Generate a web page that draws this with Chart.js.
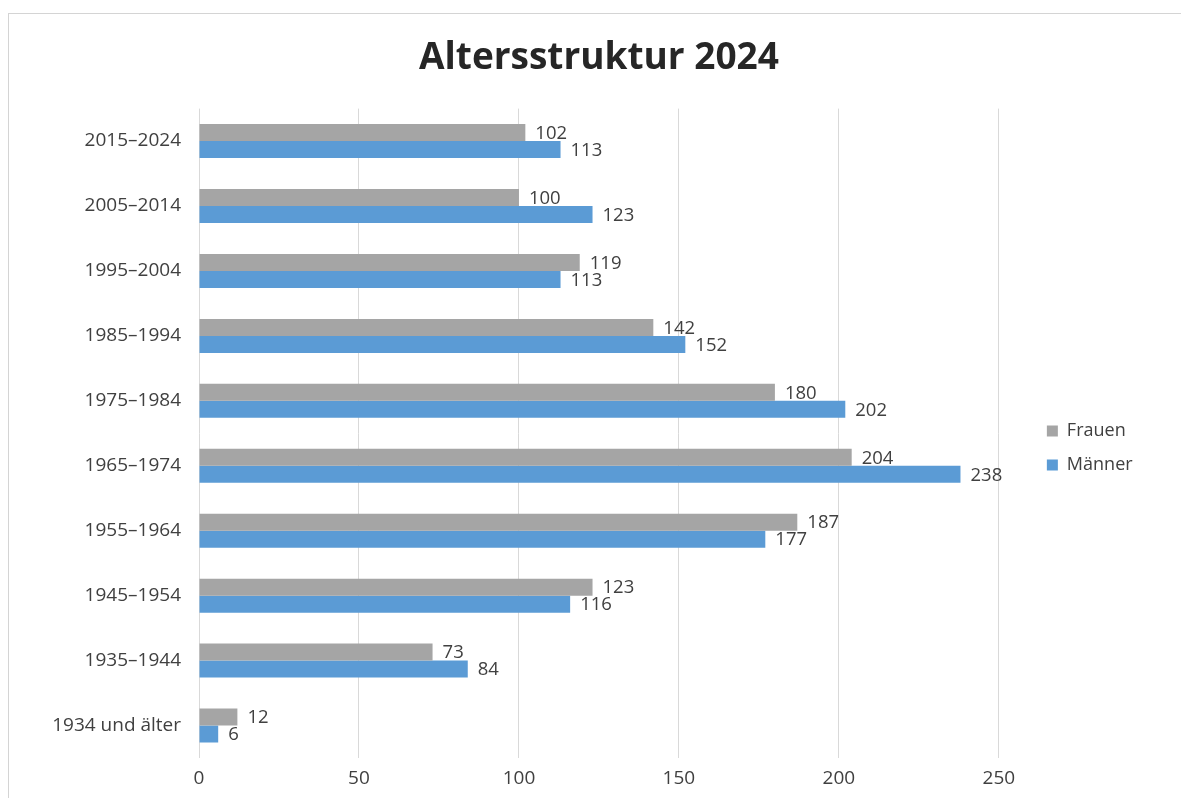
<!DOCTYPE html>
<html>
<head>
<meta charset="utf-8">
<script src="https://cdn.jsdelivr.net/npm/chart.js@4"></script>
<style>
  html, body { margin: 0; padding: 0; background: #fff; overflow: hidden; }
  #frame { position: absolute; left: 8px; top: 13px; width: 1200px; height: 820px;
           border-left: 1px solid #d4d4d4; border-top: 1px solid #d4d4d4; }
  #wrap { position: absolute; left: 9px; top: 14px; width: 1172px; height: 784px; }
</style>
</head>
<body>
<div id="frame"></div>
<div id="wrap"><canvas id="c"></canvas></div>
<script>
const categories = ["2015–2024","2005–2014","1995–2004","1985–1994","1975–1984","1965–1974","1955–1964","1945–1954","1935–1944","1934 und älter"];
const frauen = [102,100,119,142,180,204,187,123,73,12];
const maenner = [113,123,113,152,202,238,177,116,84,6];
const xTicks = [0,50,100,150,200,250];

const FONT = "'Open Sans', 'Noto Sans', sans-serif";
const TXT = '#404040';

const valueLabels = {
  id: 'valueLabels',
  afterDatasetsDraw(chart) {
    const ctx = chart.ctx;
    ctx.save();
    ctx.font = "18.5px " + FONT;
    ctx.fillStyle = TXT;
    ctx.textAlign = 'left';
    ctx.textBaseline = 'middle';
    chart.data.datasets.forEach((ds, i) => {
      const meta = chart.getDatasetMeta(i);
      meta.data.forEach((bar, j) => {
        ctx.fillText(String(ds.data[j]), bar.x + 10, bar.y + 1);
      });
    });
    ctx.restore();
  }
};

new Chart(document.getElementById('c'), {
  type: 'bar',
  data: {
    labels: categories,
    datasets: [
      { label: 'Frauen', data: frauen, backgroundColor: '#a5a5a5', categoryPercentage: 0.524, barPercentage: 1.0 },
      { label: 'Männer', data: maenner, backgroundColor: '#5b9bd5', categoryPercentage: 0.524, barPercentage: 1.0 }
    ]
  },
  options: {
    indexAxis: 'y',
    responsive: true,
    maintainAspectRatio: false,
    animation: false,
    layout: { padding: { top: 0, left: 40, right: 38.4, bottom: -2 } },
    plugins: {
      tooltip: { enabled: false },
      title: {
        display: true,
        fullSize: false,
        text: 'Altersstruktur 2024',
        color: '#262626',
        font: { family: FONT, size: 37, weight: 'bold' },
        padding: { top: 21.8, bottom: 28.4 }
      },
      legend: {
        position: 'right',
        title: { display: true, text: ' ', font: { family: FONT, size: 12 }, padding: { top: 67.6, bottom: 0 } },
        labels: {
          color: TXT,
          font: { family: FONT, size: 18 },
          boxWidth: 11,
          boxHeight: 11,
          padding: 16
        }
      }
    },
    scales: {
      x: {
        min: 0, max: 250,
        afterBuildTicks(s) { s.ticks = xTicks.map(v => ({ value: v })); },
        grid: { color: '#d9d9d9', lineWidth: 1, drawTicks: false },
        border: { display: false },
        ticks: { color: TXT, font: { family: FONT, size: 19 }, padding: 9.6 }
      },
      y: {
        grid: { display: false, drawTicks: false },
        border: { display: false },
        ticks: { color: TXT, font: { family: FONT, size: 19 }, padding: 18 },
        afterFit(s) { s.width = 150; }
      },
      yR: {
        type: 'category',
        position: 'right',
        grid: { display: false, drawTicks: false },
        border: { display: false },
        ticks: { display: false },
        afterFit(s) { s.width = 32; }
      }
    }
  },
  plugins: [valueLabels]
});
</script>
</body>
</html>
